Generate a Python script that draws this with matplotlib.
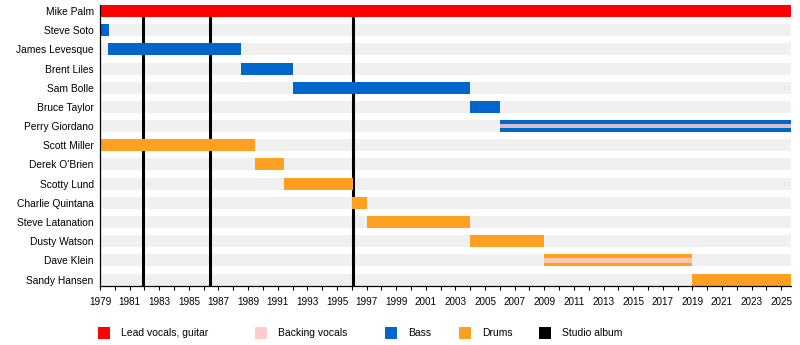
import matplotlib
matplotlib.use("Agg")
import matplotlib.pyplot as plt
from matplotlib.patches import Rectangle
from matplotlib.ticker import FixedLocator

# Band members, top to bottom
members = [
    "Mike Palm", "Steve Soto", "James Levesque", "Brent Liles", "Sam Bolle",
    "Bruce Taylor", "Perry Giordano", "Scott Miller", "Derek O'Brien",
    "Scotty Lund", "Charlie Quintana", "Steve Latanation", "Dusty Watson",
    "Dave Klein", "Sandy Hansen",
]

start_year = 1979.0
present = 2025.66

# (member, from, to)
lead_vocals = [("Mike Palm", 1979.0, present)]
bass = [
    ("Steve Soto", 1979.0, 1979.6),
    ("James Levesque", 1979.55, 1988.53),
    ("Brent Liles", 1988.5, 1992.04),
    ("Sam Bolle", 1992.0, 2004.0),
    ("Bruce Taylor", 2004.0, 2006.03),
    ("Perry Giordano", 2006.0, present),
]
drums = [
    ("Scott Miller", 1979.0, 1989.47),
    ("Derek O'Brien", 1989.45, 1991.43),
    ("Scotty Lund", 1991.4, 1996.06),
    ("Charlie Quintana", 1996.0, 1997.0),
    ("Steve Latanation", 1997.0, 2004.0),
    ("Dusty Watson", 2004.0, 2009.0),
    ("Dave Klein", 2009.0, 2019.0),
    ("Sandy Hansen", 2019.0, present),
]
backing_vocals = [
    ("Perry Giordano", 2006.0, present),
    ("Dave Klein", 2009.0, 2019.0),
]
studio_albums = [1981.93, 1986.43, 1996.1]

tick_years = list(range(1979, 2026, 2))
minor_years = list(range(1979, 2026))

COLORS = {
    "Lead vocals, guitar": "#ff0000",
    "Backing vocals": "#ffcccc",
    "Bass": "#0066cc",
    "Drums": "#ffa020",
    "Studio album": "#000000",
}

W, H = 800, 345
fig = plt.figure(figsize=(W / 100, H / 100), dpi=100)
plt.rcParams["font.family"] = ["Liberation Sans", "DejaVu Sans"]

ax = fig.add_axes([100 / W, 59 / H, 691 / W, 281 / H])

row_px = 19.18
bar_h = 12 / row_px
ypos = {name: i for i, name in enumerate(members)}

# background stripes
for name in members:
    ax.barh(ypos[name], present - start_year, left=start_year, height=bar_h,
            color="#f0f0f0", zorder=1, linewidth=0)

# studio album markers
for yr in studio_albums:
    ax.axvline(yr, color=COLORS["Studio album"], linewidth=2.2, zorder=2)


def draw(spans, color, height, alpha=1.0, z=3):
    for name, a, b in spans:
        ax.barh(ypos[name], b - a, left=a, height=height, color=color,
                linewidth=0, zorder=z, alpha=alpha)


draw(lead_vocals, COLORS["Lead vocals, guitar"], bar_h)
draw(bass, COLORS["Bass"], bar_h)
draw(drums, COLORS["Drums"], bar_h)
draw(backing_vocals, COLORS["Backing vocals"], bar_h * 0.38, alpha=0.85, z=4)

ax.set_xlim(start_year, present)
ax.set_ylim((286 - 11) / row_px, -6 / row_px)

ax.set_yticks(range(len(members)))
ax.set_yticklabels(members, fontsize=7.4)
ax.tick_params(axis="y", length=0, pad=4.5)

ax.xaxis.set_major_locator(FixedLocator(tick_years))
ax.xaxis.set_minor_locator(FixedLocator(minor_years))
ax.set_xticklabels([str(y) for y in tick_years], fontsize=7.1)
ax.tick_params(axis="x", which="both", direction="out", length=3, width=0.8,
               pad=5)

for s in ("top", "right"):
    ax.spines[s].set_visible(False)
for s in ("left", "bottom"):
    ax.spines[s].set_linewidth(0.9)
    ax.spines[s].set_zorder(5)

# legend row
legend_items = [
    ("Lead vocals, guitar", 98, 121),
    ("Backing vocals", 255, 278),
    ("Bass", 385, 408),
    ("Drums", 459, 482),
    ("Studio album", 539, 562),
]
sq = 12
cy = 333
for label, x_sq, x_txt in legend_items:
    fig.add_artist(Rectangle((x_sq / W, (H - cy - sq / 2) / H), sq / W, sq / H,
                             transform=fig.transFigure,
                             facecolor=COLORS[label], edgecolor="none"))
    fig.text(x_txt / W, (H - cy) / H, label, fontsize=7.5, va="center",
             ha="left")

fig.savefig("out.png", dpi=100)
